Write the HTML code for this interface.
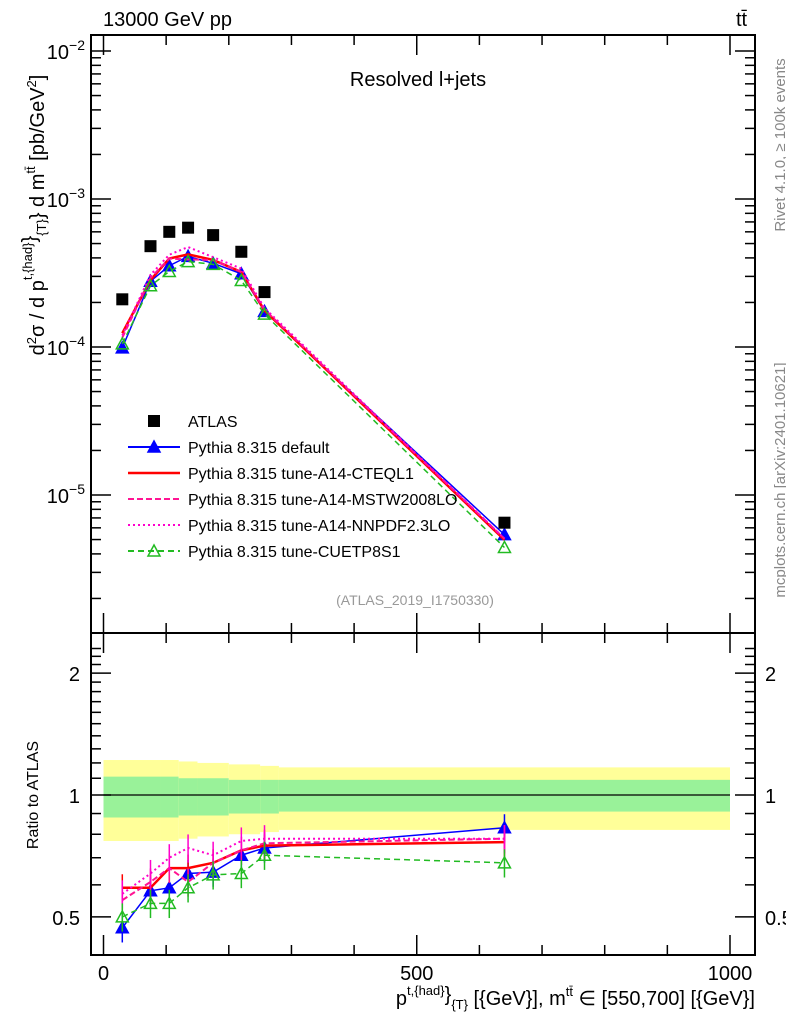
<!DOCTYPE html>
<html><head><meta charset="utf-8"><style>
body{margin:0;background:#fff;}
svg{font-family:"Liberation Sans",sans-serif;}
</style></head><body>
<svg id="c" width="786" height="1024" xmlns="http://www.w3.org/2000/svg"></svg>
<script>
const xCenters=[30,75,105,135,175,220,257,640];
const atlas=[2.1e-4,4.8e-4,6.0e-4,6.4e-4,5.7e-4,4.4e-4,2.35e-4,6.5e-6];
const rDefault=[0.47,0.58,0.59,0.64,0.645,0.71,0.74,0.83];
const rCTEQ=[0.59,0.59,0.66,0.66,0.68,0.73,0.75,0.765];
const rMSTW=[0.55,0.61,0.66,0.61,0.68,0.73,0.76,0.78];
const rNNPDF=[0.57,0.64,0.70,0.74,0.71,0.77,0.78,0.78];
const rCUETP=[0.50,0.54,0.54,0.59,0.635,0.64,0.71,0.68];
const bandEdges=[0,91,120,150,200,250,280,1000];
const yellowHi=[1.22,1.22,1.21,1.20,1.19,1.18,1.17];
const greenHi=[1.11,1.11,1.10,1.10,1.09,1.09,1.09];
const greenLo=[0.88,0.88,0.89,0.89,0.90,0.90,0.91];
const yellowLo=[0.77,0.77,0.78,0.79,0.80,0.81,0.82];
const xTicks=[0,500,1000];
const ratioTicks=[0.5,1,2];

const NS="http://www.w3.org/2000/svg";
const svg=document.getElementById('c');
const X=v=>103.5+v*0.6265;
const YM=v=>347-148*Math.log10(v/1e-4);
const YR=v=>795-405*Math.log10(v);
function el(t,a,p){const e=document.createElementNS(NS,t);for(const k in a)e.setAttribute(k,a[k]);(p||svg).appendChild(e);return e;}
function txt(s,a,name){const e=el('text',a);e.textContent=s;return e;}
function rich(parts,a,name){const e=el('text',a);
 parts.forEach(p=>{const s=el('tspan',{},e);s.textContent=p[0];if(p[1])s.setAttribute('dy',p[1]);if(p[2])s.setAttribute('font-size',p[2]);});return e;}
const L=91,R=755,T=35,M=633,B=955;

for(let i=0;i<bandEdges.length-1;i++){
 const x1=X(bandEdges[i]),x2=X(bandEdges[i+1]);
 let r=el('rect',{x:x1,y:YR(yellowHi[i]),width:x2-x1,height:YR(yellowLo[i])-YR(yellowHi[i]),fill:'#ffff99'});
 
 r=el('rect',{x:x1,y:YR(greenHi[i]),width:x2-x1,height:YR(greenLo[i])-YR(greenHi[i]),fill:'#99f299'});
 
}
el('line',{x1:X(0),x2:X(1000),y1:YR(1),y2:YR(1),stroke:'#000','stroke-width':1.2});

let f=el('rect',{x:L,y:T,width:R-L,height:M-T,fill:'none',stroke:'#000','stroke-width':2});

f=el('rect',{x:L,y:M,width:R-L,height:B-M,fill:'none',stroke:'#000','stroke-width':2});


for(let d=-6;d<=-2;d++){for(let m=1;m<10;m++){const v=m*Math.pow(10,d);const y=YM(v);if(y<T||y>M)continue;
 const len=m==1?20:10;el('line',{x1:L,x2:L+len,y1:y,y2:y,stroke:'#000','stroke-width':1.5});el('line',{x1:R,x2:R-len,y1:y,y2:y,stroke:'#000','stroke-width':1.5});}}
[-2,-3,-4,-5].forEach(d=>{const y=YM(Math.pow(10,d));rich([['10'],['−'+(-d),-9,14]],{x:85,y:y+8,'text-anchor':'end','font-size':20},'y-tick-label');});
for(let v=0.4;v<=2.4;v+=0.1){const y=YR(v);if(y<M||y>B)continue;const major=Math.abs(v-0.5)<1e-6||Math.abs(v-1)<1e-6||Math.abs(v-2)<1e-6;const len=major?20:10;
 el('line',{x1:L,x2:L+len,y1:y,y2:y,stroke:'#000','stroke-width':1.5});el('line',{x1:R,x2:R-len,y1:y,y2:y,stroke:'#000','stroke-width':1.5});}
ratioTicks.forEach(v=>{txt(String(v),{x:80,y:YR(v)+8,'text-anchor':'end','font-size':20},'ratio-tick-label');txt(String(v),{x:765,y:YR(v)+8,'font-size':20},'ratio-tick-label-right');});
for(let v=0;v<=1000;v+=100){const x=X(v);const len=v%500==0?20:10;
 el('line',{x1:x,x2:x,y1:B,y2:B-len,stroke:'#000','stroke-width':1.5});el('line',{x1:x,x2:x,y1:M,y2:M-len,stroke:'#000','stroke-width':1.5});
 el('line',{x1:x,x2:x,y1:T,y2:T+len,stroke:'#000','stroke-width':1.5});el('line',{x1:x,x2:x,y1:M,y2:M+len,stroke:'#000','stroke-width':1.5});}
xTicks.forEach(v=>txt(String(v),{x:X(v),y:980,'text-anchor':'middle','font-size':20},'x-tick-label'));

const series=[
 {name:'default',r:rDefault,c:'#0000ff',dash:'',w:1.5,mk:'tri-fill'},
 {name:'cteql1',r:rCTEQ,c:'#ff0000',dash:'',w:2.5,mk:''},
 {name:'mstw',r:rMSTW,c:'#ff1493',dash:'6,3',w:2,mk:''},
 {name:'nnpdf',r:rNNPDF,c:'#ff00cc',dash:'2,3',w:2,mk:''},
 {name:'cuetp8s1',r:rCUETP,c:'#22bb22',dash:'6,4',w:1.5,mk:'tri-open'}];
function tri(x,y,c,fill){return el('polygon',{points:`${x},${y-6} ${x-6},${y+5} ${x+6},${y+5}`,fill:fill?c:'none',stroke:c,'stroke-width':1.5});}
series.forEach(s=>{
 const mp=xCenters.map((x,i)=>X(x)+','+YM(atlas[i]*s.r[i])).join(' ');
 let pl=el('polyline',{points:mp,fill:'none',stroke:s.c,'stroke-width':s.w,'stroke-dasharray':s.dash});
 
 const rp=xCenters.map((x,i)=>X(x)+','+YR(s.r[i])).join(' ');
 pl=el('polyline',{points:rp,fill:'none',stroke:s.c,'stroke-width':s.w,'stroke-dasharray':s.dash});
 
 xCenters.forEach((x,i)=>{const y=YR(s.r[i]);const e=s.r[i]*0.08;
  el('line',{x1:X(x),x2:X(x),y1:YR(s.r[i]+e),y2:YR(s.r[i]-e),stroke:s.c,'stroke-width':1.5});
  if(s.mk){const p=tri(X(x),y,s.c,s.mk=='tri-fill');
   const q=tri(X(x),YM(atlas[i]*s.r[i]),s.c,s.mk=='tri-fill');}
 });
});
xCenters.forEach((x,i)=>{const r=el('rect',{x:X(x)-6,y:YM(atlas[i])-6,width:12,height:12,fill:'#000'});});

const leg=[['ATLAS','#000','','sq'],['Pythia 8.315 default','#0000ff','','tri-fill'],['Pythia 8.315 tune-A14-CTEQL1','#ff0000','',''],['Pythia 8.315 tune-A14-MSTW2008LO','#ff1493','6,3',''],['Pythia 8.315 tune-A14-NNPDF2.3LO','#ff00cc','2,3',''],['Pythia 8.315 tune-CUETP8S1','#22bb22','6,4','tri-open']];
leg.forEach((l,i)=>{const y=421+i*26;
 if(l[3]=='sq'){el('rect',{x:148,y:y-6,width:12,height:12,fill:'#000'});}
 else{el('line',{x1:128,x2:180,y1:y,y2:y,stroke:l[1],'stroke-width':l[1]=='#ff0000'?2.5:2,'stroke-dasharray':l[2]});if(l[3])tri(154,y,l[1],l[3]=='tri-fill');}
 txt(l[0],{x:188,y:y+6,'font-size':16},'legend-entry');});

txt('13000 GeV pp',{x:103,y:26,'font-size':20},'title-left');
txt('tt̄',{x:736,y:26,'font-size':20},'title-right');
txt('Resolved l+jets',{x:418,y:86,'text-anchor':'middle','font-size':20},'plot-label');
txt('(ATLAS_2019_I1750330)',{x:415,y:605,'text-anchor':'middle','font-size':14,fill:'#999'},'analysis-id');
txt('Ratio to ATLAS',{x:0,y:0,'font-size':16,transform:'translate(38,795) rotate(-90)','text-anchor':'middle'},'ratio-y-title');
rich([['d'],['2',-8,13],['σ / d p',8],['t,{had}',-12,13],['}',4],['{T}',10,13],['} d m',-2],['tt̄',-9,13],[' [pb/GeV',9],['2',-8,13],[']',8]],
 {x:0,y:0,'font-size':20,transform:'translate(44,215) rotate(-90)','text-anchor':'middle'},'y-axis-title');
rich([['p'],['t,{had}',-10,13],['}',6],['{T}',8,13],[' [{GeV}], m',-4],['tt̄',-9,13],[' ∈ [550,700] [{GeV}]',9]],
 {x:755,y:1005,'text-anchor':'end','font-size':20},'x-axis-title');
txt('Rivet 4.1.0, ≥ 100k events',{x:0,y:0,'font-size':15,fill:'#888',transform:'translate(785,145) rotate(-90)','text-anchor':'middle'},'rivet-label');
txt('mcplots.cern.ch [arXiv:2401.10621]',{x:0,y:0,'font-size':15,fill:'#888',transform:'translate(785,480) rotate(-90)','text-anchor':'middle'},'mcplots-label');
</script>
</body></html>
